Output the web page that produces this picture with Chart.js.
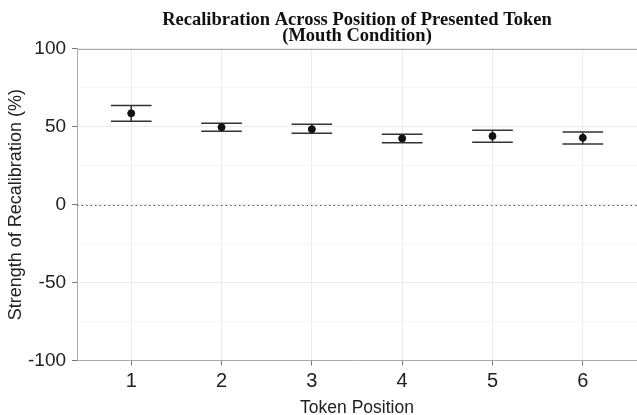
<!DOCTYPE html>
<html>
<head>
<meta charset="utf-8">
<script src="https://cdn.jsdelivr.net/npm/chart.js@4/dist/chart.umd.min.js"></script>
<style>
  html, body { margin: 0; padding: 0; background: #fff; }
  #wrap { width: 637px; height: 415px; }
</style>
</head>
<body>
<div id="wrap"><canvas id="recalChart" width="637" height="415"></canvas></div>
<script>
// token positions and recalibration strength (%), with upper / lower error bounds
const positions = [1, 2, 3, 4, 5, 6];
const means = [58.6, 49.7, 48.4, 42.5, 44.0, 42.9];
const upper = [63.7, 52.2, 51.6, 45.2, 47.8, 46.7];
const lower = [53.5, 47.1, 45.9, 39.7, 40.0, 39.0];
const yTicks = [-100, -75, -50, -25, 0, 25, 50, 75, 100];
const yLabelled = [-100, -50, 0, 50, 100];

// error bars, dotted zero line and the top frame line
const errorBars = {
    id: 'errorBars',
    beforeDatasetsDraw(chart) {
        const ctx = chart.ctx;
        const xs = chart.scales.x;
        const ys = chart.scales.y;
        const area = chart.chartArea;

        ctx.save();
        ctx.strokeStyle = '#aaa';
        ctx.lineWidth = 1;
        ctx.beginPath();
        ctx.moveTo(area.left, Math.round(area.top) + 0.5);
        ctx.lineTo(area.right, Math.round(area.top) + 0.5);
        ctx.stroke();

        ctx.strokeStyle = '#555';
        ctx.lineWidth = 1.2;
        ctx.setLineDash([1.5, 3]);
        const y0 = Math.round(ys.getPixelForValue(0)) + 0.5;
        ctx.beginPath();
        ctx.moveTo(area.left, y0);
        ctx.lineTo(area.right, y0);
        ctx.stroke();
        ctx.restore();

        ctx.save();
        ctx.strokeStyle = '#333';
        ctx.lineWidth = 1.5;
        const capHalf = (xs.getPixelForValue(1.225) - xs.getPixelForValue(1));
        positions.forEach((p, i) => {
            const x = xs.getPixelForValue(p);
            const yt = ys.getPixelForValue(upper[i]);
            const yb = ys.getPixelForValue(lower[i]);
            ctx.beginPath();
            ctx.moveTo(x, yt); ctx.lineTo(x, yb);
            ctx.moveTo(x - capHalf, yt); ctx.lineTo(x + capHalf, yt);
            ctx.moveTo(x - capHalf, yb); ctx.lineTo(x + capHalf, yb);
            ctx.stroke();
        });
        ctx.restore();
    }
};

const ctx = document.getElementById('recalChart').getContext('2d');
new Chart(ctx, {
    type: 'scatter',
    data: {
        datasets: [{
            data: positions.map((p, i) => ({ x: p, y: means[i] })),
            backgroundColor: '#111',
            borderColor: '#111',
            pointRadius: 3.5,
            pointHoverRadius: 3.5
        }]
    },
    options: {
        responsive: false,
        animation: false,
        layout: { autoPadding: false, padding: { top: 0, right: 0, left: 7, bottom: -2 } },
        plugins: {
            legend: { display: false },
            tooltip: { enabled: false },
            title: {
                display: true,
                fullSize: false,
                text: ['Recalibration Across Position of Presented Token', '(Mouth Condition)'],
                color: '#111',
                font: { family: 'Liberation Serif', size: 18.5, weight: 'bold', lineHeight: 0.86 },
                padding: { top: 12, bottom: 5 }
            }
        },
        scales: {
            x: {
                type: 'linear',
                min: 0.4,
                max: 6.6,
                afterBuildTicks: axis => { axis.ticks = positions.map(v => ({ value: v })); },
                ticks: {
                    color: '#222',
                    font: { family: 'Liberation Sans', size: 20, lineHeight: 1 },
                    padding: 6
                },
                grid: { color: '#ececec', tickColor: '#777', tickLength: 5 },
                border: { color: '#aaa', width: 1 },
                title: {
                    display: true,
                    text: 'Token Position',
                    color: '#222',
                    font: { family: 'Liberation Sans', size: 17.5, lineHeight: 1 },
                    padding: { top: 2, bottom: 0 }
                }
            },
            y: {
                min: -100,
                max: 100,
                afterBuildTicks: axis => { axis.ticks = yTicks.map(v => ({ value: v })); },
                ticks: {
                    color: '#222',
                    font: { family: 'Liberation Sans', size: 19 },
                    padding: 6,
                    callback: v => yLabelled.includes(v) ? String(v) : ''
                },
                grid: {
                    color: c => yLabelled.includes(c.tick && c.tick.value) ? '#ececec' : '#f5f5f5',
                    tickColor: c => yLabelled.includes(c.tick && c.tick.value) ? '#777' : 'rgba(0,0,0,0)',
                    tickLength: 5
                },
                border: { color: '#aaa', width: 1 },
                title: {
                    display: true,
                    text: 'Strength of Recalibration (%)',
                    color: '#222',
                    font: { family: 'Liberation Sans', size: 18, lineHeight: 1 },
                    padding: { top: 0, bottom: -3 }
                }
            }
        }
    },
    plugins: [errorBars]
});
</script>
</body>
</html>
